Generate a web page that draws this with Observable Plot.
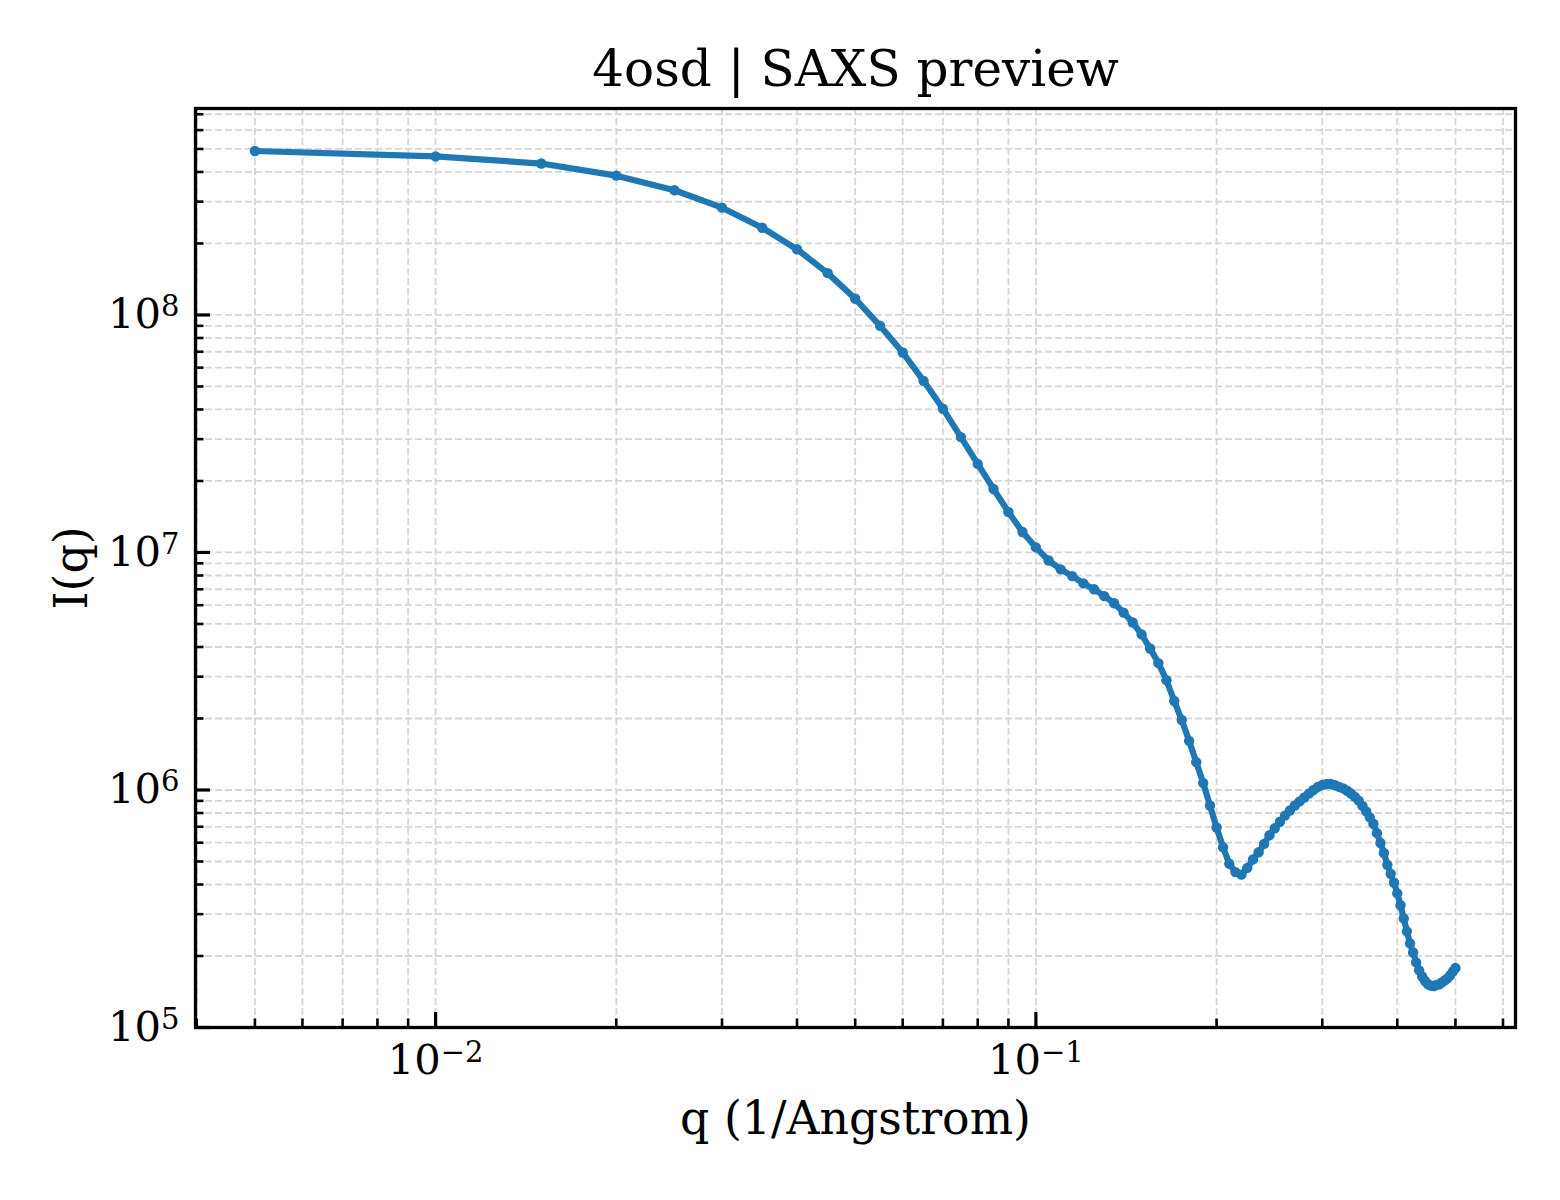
<!DOCTYPE html>
<html>
<head>
<meta charset="utf-8">
<script src="https://cdn.jsdelivr.net/npm/d3@7"></script>
<script src="https://cdn.jsdelivr.net/npm/@observablehq/plot@0.6"></script>
<style>
  html, body { margin: 0; padding: 0; background: #fff; }
  #chart svg { display: block; }
</style>
</head>
<body>
<div id="chart"></div>
<script>
// ---- data ----
const qValues = [
  0.005, 0.010, 0.015, 0.020, 0.025, 0.030, 0.035, 0.040, 0.045, 0.050,
  0.055, 0.060, 0.065, 0.070, 0.075, 0.080, 0.085, 0.090, 0.095, 0.100,
  0.105, 0.110, 0.115, 0.120, 0.125, 0.130, 0.135, 0.140, 0.145, 0.150,
  0.155, 0.160, 0.165, 0.170, 0.175, 0.180, 0.185, 0.190, 0.195, 0.200,
  0.205, 0.210, 0.215, 0.220, 0.225, 0.230, 0.235, 0.240, 0.245, 0.250,
  0.255, 0.260, 0.265, 0.270, 0.275, 0.280, 0.285, 0.290, 0.295, 0.300,
  0.305, 0.310, 0.315, 0.320, 0.325, 0.330, 0.335, 0.340, 0.345, 0.350,
  0.355, 0.360, 0.365, 0.370, 0.375, 0.380, 0.385, 0.390, 0.395, 0.400,
  0.405, 0.410, 0.415, 0.420, 0.425, 0.430, 0.435, 0.440, 0.445, 0.450,
  0.455, 0.460, 0.465, 0.470, 0.475, 0.480, 0.485, 0.490, 0.495, 0.500
];
const intensity = [
  4.90e8, 4.65e8, 4.34e8, 3.86e8, 3.35e8, 2.83e8, 2.33e8, 1.89e8, 1.50e8, 1.17e8,
  9.0e7, 6.95e7, 5.28e7, 4.03e7, 3.06e7, 2.36e7, 1.85e7, 1.48e7, 1.22e7, 1.05e7,
  9.25e6, 8.49e6, 7.95e6, 7.41e6, 7.0e6, 6.55e6, 6.11e6, 5.58e6, 5.07e6, 4.52e6,
  3.94e6, 3.42e6, 2.90e6, 2.37e6, 1.97e6, 1.61e6, 1.31e6, 1.07e6, 8.6e5, 6.95e5,
  5.74e5, 4.89e5, 4.51e5, 4.40e5, 4.70e5, 5.10e5, 5.47e5, 5.93e5, 6.45e5, 6.90e5,
  7.35e5, 7.80e5, 8.20e5, 8.60e5, 8.95e5, 9.30e5, 9.65e5, 1.00e6, 1.03e6, 1.05e6,
  1.06e6, 1.06e6, 1.047e6, 1.03e6, 1.016e6, 9.93e5, 9.66e5, 9.35e5, 9.02e5, 8.57e5,
  8.13e5, 7.67e5, 7.21e5, 6.58e5, 5.98e5, 5.43e5, 4.84e5, 4.44e5, 4.07e5, 3.67e5,
  3.27e5, 2.88e5, 2.54e5, 2.26e5, 2.07e5, 1.88e5, 1.74e5, 1.64e5, 1.57e5, 1.52e5,
  1.50e5, 1.496e5, 1.51e5, 1.52e5, 1.55e5, 1.58e5, 1.61e5, 1.66e5, 1.72e5, 1.78e5
];
const xMajorTicks = [0.01, 0.1];
const xMajorLabels = ["10^−2", "10^−1"];
const xMinorTicks = [0.004, 0.005, 0.006, 0.007, 0.008, 0.009,
  0.02, 0.03, 0.04, 0.05, 0.06, 0.07, 0.08, 0.09,
  0.2, 0.3, 0.4, 0.5, 0.6];
const yMajorTicks = [1e5, 1e6, 1e7, 1e8];
const yMajorLabels = ["10^5", "10^6", "10^7", "10^8"];
const yMinorTicks = [2e5, 3e5, 4e5, 5e5, 6e5, 7e5, 8e5, 9e5,
  2e6, 3e6, 4e6, 5e6, 6e6, 7e6, 8e6, 9e6,
  2e7, 3e7, 4e7, 5e7, 6e7, 7e7, 8e7, 9e7,
  2e8, 3e8, 4e8, 5e8, 6e8, 7e8];
const titleText = "4osd | SAXS preview";
const xLabel = "q (1/Angstrom)";
const yLabel = "I(q)";

const data = qValues.map((q, i) => ({q, I: intensity[i]}));

// ---- layout ----
const W = 1560, H = 1200;
const mL = 195, mR = 45, mT = 108, mB = 173;
const fw = W - mL - mR, fh = H - mT - mB;
const blue = "#1f77b4";
const gridColor = "#d6d6d6";
const font = "DejaVu Serif, Liberation Serif, serif";

const xLab = new Map(xMajorTicks.map((t, i) => [t, xMajorLabels[i]]));
const yLab = new Map(yMajorTicks.map((t, i) => [t, yMajorLabels[i]]));

const chart = Plot.plot({
  width: W,
  height: H,
  marginLeft: mL,
  marginRight: mR,
  marginTop: mT,
  marginBottom: mB,
  style: {fontFamily: font, background: "#fff", color: "#000"},
  x: {type: "log", domain: [0.003981, 0.6295]},
  y: {type: "log", domain: [1e5, 7.4e8]},
  marks: [
    // grid
    Plot.ruleX([...xMinorTicks, ...xMajorTicks], {stroke: gridColor, strokeWidth: 1.8, strokeDasharray: "7,3"}),
    Plot.ruleY([...yMinorTicks, ...yMajorTicks], {stroke: gridColor, strokeWidth: 1.8, strokeDasharray: "7,3"}),
    // curve
    Plot.line(data, {x: "q", y: "I", stroke: blue, strokeWidth: 6.2, strokeLinejoin: "round", strokeLinecap: "round"}),
    Plot.dot(data, {x: "q", y: "I", r: 5.2, fill: blue, stroke: "none"}),
    // inward ticks
    Plot.ruleX(xMajorTicks, {stroke: "#000", strokeWidth: 3.2, insetTop: fh - 15}),
    Plot.ruleX(xMinorTicks, {stroke: "#000", strokeWidth: 2.6, insetTop: fh - 8.5}),
    Plot.ruleY(yMajorTicks, {stroke: "#000", strokeWidth: 3.2, insetRight: fw - 15}),
    Plot.ruleY(yMinorTicks, {stroke: "#000", strokeWidth: 2.6, insetRight: fw - 8.5}),
    // tick labels
    Plot.axisX(xMajorTicks, {tickSize: 0, tickPadding: 17, fontSize: 41.7, tickFormat: d => xLab.get(d), label: null}),
    Plot.axisY(yMajorTicks, {tickSize: 0, tickPadding: 16, fontSize: 41.7, tickFormat: d => yLab.get(d), label: null}),
    // frame
    Plot.frame({stroke: "#000", strokeWidth: 3.3}),
    // texts
    Plot.text([titleText], {text: d => d, frameAnchor: "top", lineAnchor: "bottom", dy: -23, fontSize: 50, fill: "#000"}),
    Plot.text([xLabel], {text: d => d, frameAnchor: "bottom", lineAnchor: "bottom", dy: 106, fontSize: 45.8, fill: "#000"}),
    Plot.text([yLabel], {text: d => d, frameAnchor: "left", rotate: -90, dx: -123, lineAnchor: "middle", textAnchor: "middle", fontSize: 45.8, fill: "#000"})
  ]
});

// superscripts for power-of-ten tick labels
d3.select(chart).selectAll("text").each(function() {
  const el = d3.select(this);
  if (el.select("tspan").size() > 0) return;
  const t = this.textContent;
  const m = /^10\^(.+)$/.exec(t);
  if (!m) return;
  el.text("10");
  el.append("tspan").attr("dy", "-12").attr("font-size", 29).text(m[1]);
});

document.getElementById("chart").appendChild(chart);
</script>
</body>
</html>
